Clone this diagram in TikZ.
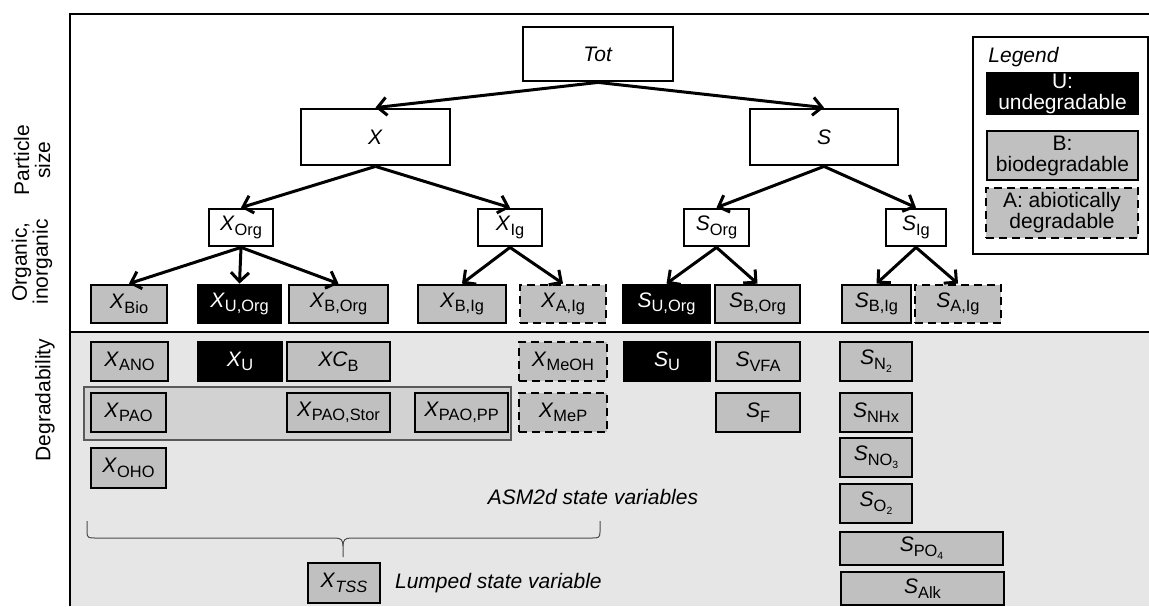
\documentclass[tikz,border=0pt]{standalone}
\usepackage{fontspec}
\setmainfont{Liberation Sans}
\usetikzlibrary{arrows.meta}

\definecolor{boxgray}{HTML}{C0C0C0}
\definecolor{bggray}{HTML}{E6E6E6}
\definecolor{groupgray}{HTML}{D2D2D2}

\newcommand{\boxfont}{\fontsize{10.5}{10.5}\selectfont}
\newcommand{\sv}[2]{\textit{#1}\raisebox{-2.2pt}{\fontsize{8.2}{8}\selectfont #2}}
\newcommand{\ssub}[1]{\raisebox{-1.8pt}{\fontsize{5.2}{6}\selectfont #1}}

\tikzset{
  varbox/.style={draw, line width=1.4pt, inner sep=0pt, font=\boxfont, align=center},
  split/.style={varbox, fill=white},
  undeg/.style={varbox, fill=black, text=white},
  biodeg/.style={varbox, fill=boxgray},
  abiodeg/.style={varbox, fill=boxgray, dash pattern=on 4pt off 2.5pt},
  tree/.style={line width=1.5pt, -{Straight Barb[length=4.5pt,width=9pt]}},
  axislabel/.style={rotate=90, align=center, font=\boxfont},
}

\begin{document}
\begin{tikzpicture}[x=0.5pt,y=-0.5pt]
\useasboundingbox (0,0) rectangle (1149,606);
% Draw frame and degradability band
\fill[bggray] (70,332) rectangle (1149,606);
\draw[line width=1.3pt] (1149,14) -- (70,14) -- (70,606);
\draw[line width=1.3pt] (70,332) -- (1149,332);
% Axis labels
\node[axislabel] (lblsize) at (32,160) {Particle\\size};
\node[axislabel] (lblorg) at (32,262) {Organic,\\inorganic};
\node[axislabel] (lbldeg) at (45,400) {Degradability};
% Draw particle size level
\node[split, minimum width=75pt, minimum height=27pt] (tot) at (598,54) {\textit{Tot}};
\node[split, minimum width=74.5pt, minimum height=28pt] (xp) at (375.5,137) {\textit{X}};
\node[split, minimum width=74pt, minimum height=28pt] (sp) at (824,137) {\textit{S}};
% Draw organic/inorganic level
\node[split, minimum width=32pt, minimum height=18.5pt] (xorg) at (241,227.5) {\sv{X}{Org}};
\node[split, minimum width=32pt, minimum height=18.5pt] (xig) at (510,227.5) {\sv{X}{Ig}};
\node[split, minimum width=32.5pt, minimum height=18.5pt] (sorg) at (716.5,227.5) {\sv{S}{Org}};
\node[split, minimum width=30pt, minimum height=18.5pt] (sig) at (916,227.5) {\sv{S}{Ig}};
% Draw degradability level
\node[biodeg, minimum width=38pt, minimum height=19pt] (xbio) at (129,304) {\sv{X}{Bio}};
\node[undeg, minimum width=41.5pt, minimum height=19pt] (xuorg) at (239.5,304) {\sv{X}{U,Org}};
\node[biodeg, minimum width=49.5pt, minimum height=19pt] (xborg) at (338.5,304) {\sv{X}{B,Org}};
\node[biodeg, minimum width=44pt, minimum height=19pt] (xbig) at (462,304) {\sv{X}{B,Ig}};
\node[abiodeg, minimum width=43pt, minimum height=19pt] (xaig) at (563,304) {\sv{X}{A,Ig}};
\node[undeg, minimum width=43.5pt, minimum height=19pt] (suorg) at (666.5,304) {\sv{S}{U,Org}};
\node[biodeg, minimum width=42.5pt, minimum height=19pt] (sborg) at (757.5,304) {\sv{S}{B,Org}};
\node[biodeg, minimum width=34.5pt, minimum height=19pt] (sbig) at (876.5,304) {\sv{S}{B,Ig}};
\node[abiodeg, minimum width=43pt, minimum height=19pt] (saig) at (958,304) {\sv{S}{A,Ig}};
% Draw tree arrows
\foreach \a/\b in {tot/xp, tot/sp, xp/xorg, xp/xig, sp/sorg, sp/sig,
                   xorg/xbio, xorg/xuorg, xorg/xborg, xig/xbig, xig/xaig,
                   sorg/suorg, sorg/sborg, sig/sbig, sig/saig}
  \draw[tree] (\a.south) -- (\b.north);
% Draw PAO group
\draw[fill=groupgray, draw=black!65, line width=0.6pt] (84,387) rectangle (511,440);
% Draw ASM2d state variables
\node[biodeg, minimum width=38.5pt, minimum height=19.5pt] (xano) at (129.5,361.5) {\sv{X}{ANO}};
\node[undeg, minimum width=42pt, minimum height=19.5pt] (xu) at (240,361.5) {\sv{X}{U}};
\node[biodeg, minimum width=51.5pt, minimum height=19.5pt] (xcb) at (338.5,361.5) {\sv{XC}{B}};
\node[abiodeg, minimum width=44pt, minimum height=19.5pt] (xmeoh) at (563,361.5) {\sv{X}{MeOH}};
\node[undeg, minimum width=43pt, minimum height=19.5pt] (su) at (667,361.5) {\sv{S}{U}};
\node[biodeg, minimum width=42pt, minimum height=19.5pt] (svfa) at (758,361.5) {\sv{S}{VFA}};
\node[biodeg, minimum width=36pt, minimum height=19.5pt] (sn2) at (876,361.5) {\sv{S}{N\ssub{2}}};
\node[biodeg, minimum width=37.5pt, minimum height=19.5pt] (xpao) at (128.5,412.5) {\sv{X}{PAO}};
\node[biodeg, minimum width=51.5pt, minimum height=19.5pt] (xpaostor) at (338.5,412.5) {\sv{X}{PAO,Stor}};
\node[biodeg, minimum width=46.5pt, minimum height=19.5pt] (xpaopp) at (461.5,412.5) {\sv{X}{PAO,PP}};
\node[abiodeg, minimum width=44pt, minimum height=19.5pt] (xmep) at (563,412.5) {\sv{X}{MeP}};
\node[biodeg, minimum width=42pt, minimum height=19.5pt] (sf) at (758,412.5) {\sv{S}{F}};
\node[biodeg, minimum width=36pt, minimum height=19.5pt] (snhx) at (876,412.5) {\sv{S}{NHx}};
\node[biodeg, minimum width=37.5pt, minimum height=20pt] (xoho) at (128.5,468) {\sv{X}{OHO}};
\node[biodeg, minimum width=36pt, minimum height=19.5pt] (sno3) at (876,457.5) {\sv{S}{NO\ssub{3}}};
\node[biodeg, minimum width=36pt, minimum height=19.5pt] (so2) at (876,503.5) {\sv{S}{O\ssub{2}}};
\node[biodeg, minimum width=81.5pt, minimum height=16.5pt] (spo4) at (921.5,548.5) {\sv{S}{PO\ssub{4}}};
\node[biodeg, minimum width=81.5pt, minimum height=16.5pt] (salk) at (922.5,588.5) {\sv{S}{Alk}};
\node[font=\boxfont\itshape] (asm) at (593,497) {ASM2d state variables};
% Draw brace and lumped variable
\draw[black!70, line width=0.5pt] (87,521) -- (87,532) .. controls (87,538) and (89,538) .. (95,538)
  -- (335,538) .. controls (341,538) and (343,540) .. (343,546) -- (343,557);
\draw[black!70, line width=0.5pt] (600,521) -- (600,532) .. controls (600,538) and (598,538) .. (592,538)
  -- (351,538) .. controls (345,538) and (343,540) .. (343,546);
\node[biodeg, minimum width=36pt, minimum height=20pt] (xtss) at (344,583) {\sv{X}{\textit{TSS}}};
\node[anchor=west, font=\boxfont\itshape] (lumped) at (388,583) {Lumped state variable};
% Draw legend
\node[draw, line width=1.4pt, fill=white, minimum width=87.5pt, minimum height=108.5pt] (legend) at (1060.5,145.5) {};
\node[anchor=base west, inner sep=0pt, font=\boxfont\itshape] (legtitle) at (988,62) {Legend};
\node[undeg, minimum width=75.5pt, minimum height=19.5pt] (legu) at (1062.5,93.5) {U:\\undegradable};
\node[biodeg, minimum width=75.5pt, minimum height=24.5pt] (legb) at (1062.5,155.5) {B:\\biodegradable};
\node[abiodeg, minimum width=76pt, minimum height=25pt] (lega) at (1062,213) {A: abiotically\\degradable};
\end{tikzpicture}
\end{document}
